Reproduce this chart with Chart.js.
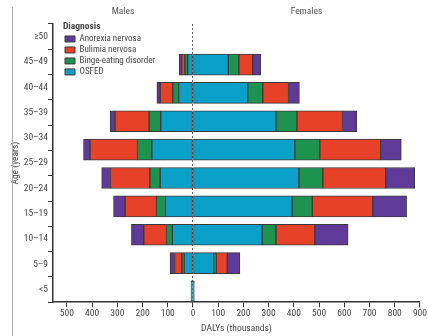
<!DOCTYPE html>
<html>
<head>
<meta charset="utf-8">
<script src="https://cdn.jsdelivr.net/npm/chart.js@4/dist/chart.umd.min.js"></script>
<style>
  html, body { margin: 0; padding: 0; background: #fff; }
  #wrap { position: relative; width: 428px; height: 336px; }
  #frame { position: absolute; left: 12px; top: 7px; bottom: 0; width: 1px; background: #b0b0b0; }
</style>
</head>
<body>
<div id="wrap">
  <div id="frame"></div>
  <canvas id="chart" width="428" height="336"></canvas>
</div>
<script>
// age labels on the axis, top to bottom
const ageLabels = ['≥50', '45–49', '40–44', '35–39', '30–34', '25–29', '20–24', '15–19', '10–14', '5–9', '<5'];

// the figure draws 9 bars spread evenly from the 45–49 row down to the <5 row (top to bottom)
const diagnoses = ['OSFED', 'Binge-eating disorder', 'Bulimia nervosa', 'Anorexia nervosa'];
const colors = ['#0aa0c8', '#1e9350', '#e8412a', '#5f3a98'];

// DALYs (thousands), males
const maleOsfed    = [21, 57, 128, 163, 130, 109, 82, 34, 3];
const maleBinge    = [11, 23, 46, 57, 41, 36, 23, 10, 1];
const maleBulimia  = [13, 50, 135, 188, 156, 124, 90, 29, 2];
const maleAnorexia = [10, 13, 19, 26, 35, 46, 49, 18, 2];

// DALYs (thousands), females
const femaleOsfed    = [140, 217, 329, 404, 420, 393, 274, 83, 2];
const femaleBinge    = [42, 60, 83, 99, 95, 80, 55, 9, 1];
const femaleBulimia  = [55, 102, 181, 241, 249, 240, 154, 44, 1];
const femaleAnorexia = [32, 43, 56, 82, 115, 134, 132, 50, 1];

const xTicks = [-500, -400, -300, -200, -100, 0, 100, 200, 300, 400, 500, 600, 700, 800, 900];

// the source uses a narrow face; take the narrowest installed one and
// size it so the legend text comes out about as wide as in the figure
function pickFont() {
    const c = document.createElement('canvas').getContext('2d');
    const probe = 'Binge-eating disorder';
    const faces = ["'Liberation Sans Narrow'", "'DejaVu Sans Condensed'", "'Roboto Condensed'", "'Liberation Sans'"];
    let best = null;
    for (const f of faces) {
        c.font = '10px ' + f + ', sans-serif';
        const w = c.measureText(probe).width;
        if (!best || w < best.w) best = { family: f + ', sans-serif', w: w };
    }
    const size = Math.max(8, Math.min(10, Math.round(10 * 77 / best.w * 2) / 2));
    return { family: best.family, size: size };
}
const F = pickFont();
const TEXT = '#444';
const AXIS = '#333';

function toPoints(values, sign) {
    const n = values.length;
    return values.map((v, i) => ({ x: sign * v, y: n - 1 - i }));
}

const female = [femaleOsfed, femaleBinge, femaleBulimia, femaleAnorexia];
const male = [maleOsfed, maleBinge, maleBulimia, maleAnorexia];

const datasets = [];
female.forEach((vals, k) => datasets.push({
    label: diagnoses[k], data: toPoints(vals, 1), backgroundColor: colors[k]
}));
male.forEach((vals, k) => datasets.push({
    label: diagnoses[k] + ' (males)', data: toPoints(vals, -1), backgroundColor: colors[k]
}));
datasets.forEach(d => {
    d.yAxisID = 'yb';
    d.borderColor = '#3a3a3a';
    d.borderWidth = 1;
    d.borderSkipped = false;
    d.barThickness = 21;
});

// Males / Females headings over each half
const sideTitles = {
    id: 'sideTitles',
    afterDraw(c) {
        const { ctx, chartArea } = c;
        const zero = c.scales.x.getPixelForValue(0);
        ctx.save();
        ctx.font = (F.size + 0.5) + 'px ' + F.family;
        ctx.fillStyle = '#555';
        ctx.textAlign = 'center';
        ctx.textBaseline = 'middle';
        ctx.fillText('Males', (chartArea.left + zero) / 2, 12);
        ctx.fillText('Females', (zero + chartArea.right) / 2, 12);
        ctx.restore();
    }
};

// move the chartArea legend to the upper left corner of the plot
const legendInside = {
    id: 'legendInside',
    afterLayout(c) {
        const lg = c.legend;
        const w = lg.width, h = lg.height;
        lg.left = c.chartArea.left + 10;
        lg.right = lg.left + w;
        lg.top = 22;
        lg.bottom = lg.top + h;
    }
};

new Chart(document.getElementById('chart'), {
    type: 'bar',
    data: { datasets: datasets },
    options: {
        indexAxis: 'y',
        responsive: false,
        animation: false,
        layout: { padding: { top: 24, left: 10, right: 5, bottom: 2 } },
        scales: {
            x: {
                type: 'linear',
                stacked: true,
                min: -555,
                max: 900,
                afterBuildTicks: s => { s.ticks = xTicks.map(v => ({ value: v })); },
                ticks: {
                    callback: v => Math.abs(v),
                    font: { family: F.family, size: F.size + 0.5 },
                    color: TEXT,
                    padding: 1,
                    maxRotation: 0,
                    autoSkip: false
                },
                grid: {
                    color: ctx => (ctx.tick && ctx.tick.value === 0) ? '#666' : 'rgba(0,0,0,0)',
                    tickColor: AXIS,
                    tickLength: 5,
                    lineWidth: 1
                },
                border: { display: true, color: AXIS, width: 1.5, dash: [2, 2] },
                title: {
                    display: true,
                    text: 'DALYs (thousands)',
                    font: { family: F.family, size: F.size + 0.5 },
                    color: TEXT,
                    padding: { top: 2, bottom: 0 }
                }
            },
            y: {
                type: 'category',
                labels: ageLabels,
                offset: true,
                afterFit: s => { s.width = 43; },
                ticks: {
                    font: { family: F.family, size: F.size + 0.5 },
                    color: TEXT,
                    padding: 0
                },
                grid: {
                    offset: true,
                    drawOnChartArea: false,
                    tickColor: AXIS,
                    tickLength: 5
                },
                border: { display: true, color: AXIS, width: 1.5 },
                title: {
                    display: true,
                    text: 'Age (years)',
                    font: { family: F.family, size: F.size + 0.5 },
                    color: TEXT,
                    padding: { top: 0, bottom: 0 }
                }
            },
            yb: {
                type: 'linear',
                display: false,
                stacked: true,
                offset: false,
                grid: { offset: false },
                min: -0.38,
                max: 9.43
            }
        },
        plugins: {
            legend: {
                position: 'chartArea',
                align: 'start',
                reverse: true,
                title: {
                    display: true,
                    position: 'start',
                    text: 'Diagnosis',
                    color: TEXT,
                    font: { family: F.family, size: F.size + 0.5, weight: 'bold', lineHeight: 1.1 },
                    padding: 0
                },
                labels: {
                    filter: item => item.datasetIndex < 4,
                    boxWidth: 10,
                    boxHeight: 6,
                    padding: 2,
                    color: TEXT,
                    font: { family: F.family, size: F.size }
                }
            },
            tooltip: { enabled: false }
        }
    },
    plugins: [sideTitles, legendInside]
});
</script>
</body>
</html>
